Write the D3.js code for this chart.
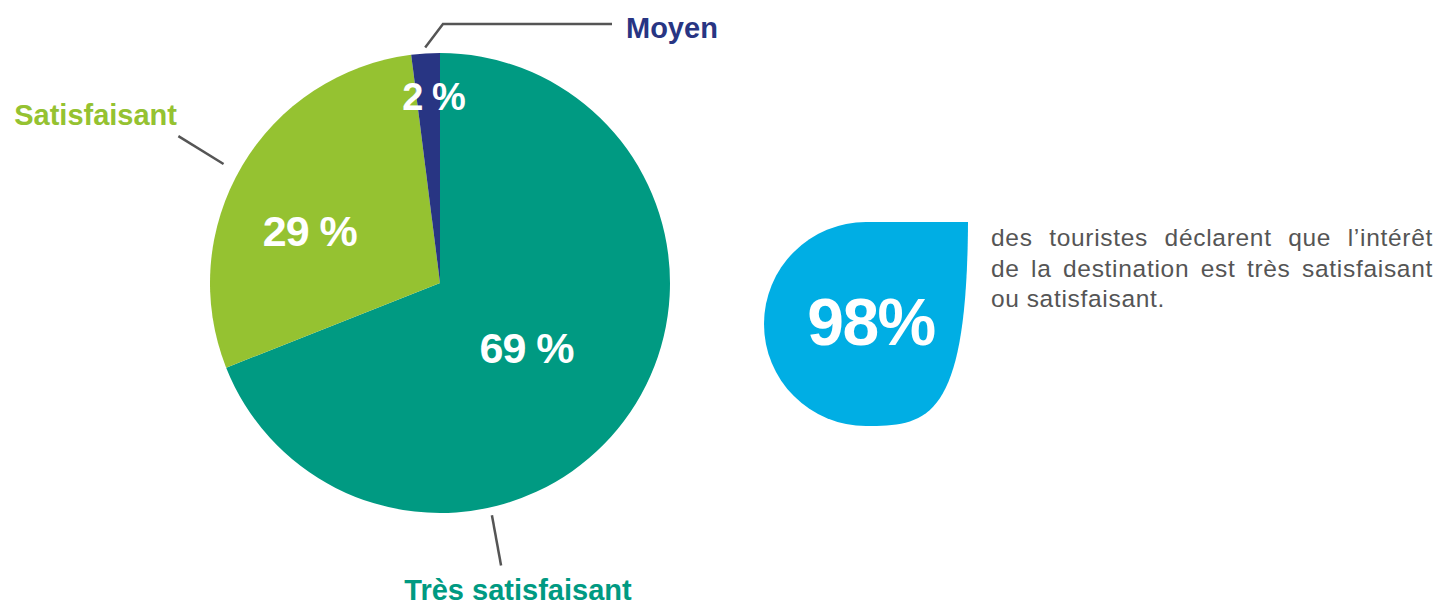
<!DOCTYPE html>
<html>
<head>
<meta charset="utf-8">
<script src="https://cdn.jsdelivr.net/npm/d3@7"></script>
<style>
  body { margin: 0; background: #fff; }
  svg { display: block; font-family: "Liberation Sans", Arial, Helvetica, sans-serif; }
</style>
</head>
<body>
<svg id="chart" width="1437" height="607"></svg>
<script>
// données du graphique
const categories = ["Très satisfaisant", "Satisfaisant", "Moyen"];
const values = [69, 29, 2];
const valueLabels = ["69 %", "29 %", "2 %"];
const colors = ["#009a82", "#95c231", "#283583"];
const keyFigure = "98%";
const keyText = [
  "des touristes déclarent que l’intérêt",
  "de la destination est très satisfaisant",
  "ou satisfaisant."
];

// mise en page
const W = 1437, H = 607;
const cx = 440, cy = 283, R = 230;
const toRad = d => d * Math.PI / 180;
const polar = (deg, r) => [cx + r * Math.sin(toRad(deg)), cy - r * Math.cos(toRad(deg))];

// position des % dans le camembert (angle en degrés, rayon relatif)
const valuePos = [
  {a: 126.8, r: 0.47, size: 43},
  {a: 291.8, r: 0.61, size: 43},
  {a: 358.0, r: 0.81, size: 38}
];
// traits de rappel (points en coordonnées polaires)
const leaders = [
  [[167.4, 238], [167.8, 289]],
  [[298.8, 247], [299.3, 300]],
  [[356.4, 236], [0.66, 259], "h"]
];
// étiquettes des catégories
const catLabels = [
  {x: 518, y: 600, anchor: "middle"},
  {x: 177, y: 125, anchor: "end"},
  {x: 626, y: 38, anchor: "start"}
];

const svg = d3.select("#chart");

const pie = d3.pie().sort(null).value(d => d);
const arcs = pie(values);
const arc = d3.arc().innerRadius(0).outerRadius(R);

const g = svg.append("g").attr("transform", `translate(${cx},${cy})`);
g.selectAll("path")
  .data(arcs)
  .enter()
  .append("path")
  .attr("d", arc)
  .attr("fill", (d, i) => colors[i]);

// valeurs en blanc
svg.selectAll("text.val")
  .data(arcs)
  .enter()
  .append("text")
  .attr("class", "val")
  .attr("x", (d, i) => polar(valuePos[i].a, valuePos[i].r * R)[0])
  .attr("y", (d, i) => polar(valuePos[i].a, valuePos[i].r * R)[1])
  .attr("dy", "0.36em")
  .attr("text-anchor", "middle")
  .attr("fill", "#fff")
  .attr("font-weight", "bold")
  .attr("font-size", (d, i) => valuePos[i].size)
  .attr("letter-spacing", -1)
  .text((d, i) => valueLabels[i].replace(" ", "\u00a0"));

// traits de rappel
leaders.forEach((l, i) => {
  const pts = [polar(l[0][0], l[0][1]), polar(l[1][0], l[1][1])];
  if (l[2] === "h") pts.push([catLabels[i].x - 14, pts[1][1]]);
  svg.append("path")
    .attr("d", d3.line()(pts))
    .attr("fill", "none")
    .attr("stroke", "#555")
    .attr("stroke-width", 2.5);
});

// noms des catégories
svg.selectAll("text.cat")
  .data(categories)
  .enter()
  .append("text")
  .attr("class", "cat")
  .attr("x", (d, i) => catLabels[i].x)
  .attr("y", (d, i) => catLabels[i].y)
  .attr("text-anchor", (d, i) => catLabels[i].anchor)
  .attr("fill", (d, i) => colors[i])
  .attr("font-weight", "bold")
  .attr("font-size", 29)
  .text(d => d);

// goutte bleue avec le chiffre clé
const dx = 866, dyc = 324, r = 102;
const drop = d3.path();
drop.moveTo(dx - r, dyc);
drop.arc(dx, dyc, r, Math.PI, 1.5 * Math.PI);
drop.lineTo(dx + r, dyc - r);
drop.bezierCurveTo(dx + r - 1, dyc + 0.95 * r, dx + 0.6 * r, dyc + r, dx, dyc + r);
drop.arc(dx, dyc, r, 0.5 * Math.PI, Math.PI);
drop.closePath();
svg.append("path")
  .attr("d", drop.toString())
  .attr("fill", "#00aee4");

svg.append("text")
  .attr("x", 871)
  .attr("y", 345)
  .attr("text-anchor", "middle")
  .attr("fill", "#fff")
  .attr("font-weight", "bold")
  .attr("font-size", 66)
  .attr("letter-spacing", -1.5)
  .text(keyFigure);

// texte justifié à droite de la goutte
const tx0 = 991, tx1 = 1433, ty0 = 246, lh = 30.5;
keyText.forEach((line, li) => {
  const words = line.split(" ");
  const t = svg.append("text")
    .attr("y", ty0 + li * lh)
    .attr("fill", "#555")
    .attr("font-size", 24.5)
    .attr("letter-spacing", 0.7);
  const spans = words.map(w => t.append("tspan").text(w));
  const widths = spans.map(s => s.node().getComputedTextLength());
  const total = d3.sum(widths);
  const justify = li < keyText.length - 1;
  const gap = justify ? (tx1 - tx0 - total) / (words.length - 1) : 7;
  let x = tx0;
  spans.forEach((s, k) => {
    s.attr("x", x);
    x += widths[k] + gap;
  });
});
</script>
</body>
</html>
